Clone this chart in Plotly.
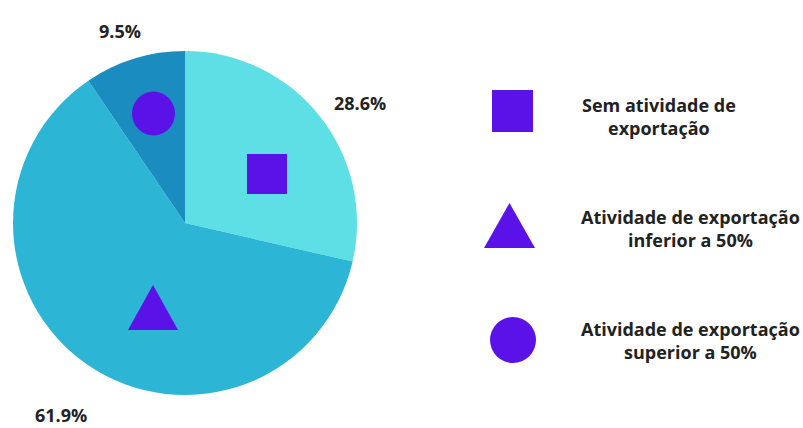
import plotly.graph_objects as go

# Data
categories = ["Sem atividade de exportação",
              "Atividade de exportação inferior a 50%",
              "Atividade de exportação superior a 50%"]
legend_labels = ["Sem atividade de<br>exportação",
                 "Atividade de exportação<br>inferior a 50%",
                 "Atividade de exportação<br>superior a 50%"]
values = [28.6, 61.9, 9.5]
slice_colors = ["#5DDFE5", "#2DB5D6", "#1B8CC0"]
symbols = ["square", "triangle", "circle"]
purple = "#5A12E8"

W, H = 803, 428

fig = go.Figure()

fig.add_trace(go.Pie(
    values=values, labels=categories, sort=False, direction="clockwise",
    rotation=0, marker=dict(colors=slice_colors, line=dict(width=0)),
    textinfo="none", hoverinfo="label+percent", showlegend=False,
    domain=dict(x=[13 / W, 357 / W], y=[1 - 396 / H, 1 - 50 / H]),
))

# invisible trace to activate the overlay pixel axes
fig.add_trace(go.Scatter(x=[0, W], y=[0, H], mode="markers", showlegend=False,
                         hoverinfo="skip", marker=dict(opacity=0)))

# symbol placement (pixel centres, widths, heights)
pie_sym_cx = [267, 153, 153.5]
pie_sym_cy = [174, 307.5, 113.5]
pie_sym_w = [40, 50, 43]
pie_sym_h = [40, 45, 44]
leg_sym_cx = [512.5, 509.5, 513]
leg_sym_cy = [111, 225.5, 340]
leg_sym_w = [41, 51, 46]
leg_sym_h = [42, 45, 46]


def add_symbol(sym, cx, cy, w, h):
    common = dict(xref="x", yref="y", fillcolor=purple, line=dict(width=0),
                  layer="above")
    if sym == "square":
        fig.add_shape(type="rect", x0=cx - w / 2, x1=cx + w / 2,
                      y0=cy - h / 2, y1=cy + h / 2, **common)
    elif sym == "circle":
        fig.add_shape(type="circle", x0=cx - w / 2, x1=cx + w / 2,
                      y0=cy - h / 2, y1=cy + h / 2, **common)
    else:
        path = (f"M{cx - w / 2},{cy + h / 2} L{cx + w / 2},{cy + h / 2} "
                f"L{cx},{cy - h / 2} Z")
        fig.add_shape(type="path", path=path, **common)


for s, cx, cy, w, h in zip(symbols, pie_sym_cx, pie_sym_cy, pie_sym_w, pie_sym_h):
    add_symbol(s, cx, cy, w, h)
for s, cx, cy, w, h in zip(symbols, leg_sym_cx, leg_sym_cy, leg_sym_w, leg_sym_h):
    add_symbol(s, cx, cy, w, h)

font = dict(family="Open Sans", size=18, color="#222222")

# Percentage labels
pct_x = [360, 61, 120]
pct_y = [103, 415, 31]
for v, px, py in zip(values, pct_x, pct_y):
    fig.add_annotation(x=px, y=py, xref="x", yref="y", text=f"<b>{v:.1f}%</b>",
                       showarrow=False, font=font)

# Legend texts
txt_x = [659, 690, 690]
txt_y = [116, 228, 340]
for t, tx, ty in zip(legend_labels, txt_x, txt_y):
    fig.add_annotation(x=tx, y=ty, xref="x", yref="y", text=f"<b>{t}</b>",
                       showarrow=False, font=font, align="center")

fig.update_layout(
    width=W, height=H, margin=dict(l=0, r=0, t=0, b=0),
    paper_bgcolor="white", plot_bgcolor="rgba(0,0,0,0)",
    xaxis=dict(range=[0, W], visible=False, fixedrange=True),
    yaxis=dict(range=[H, 0], visible=False, fixedrange=True),
    showlegend=False,
)

fig.write_html("out.html")
